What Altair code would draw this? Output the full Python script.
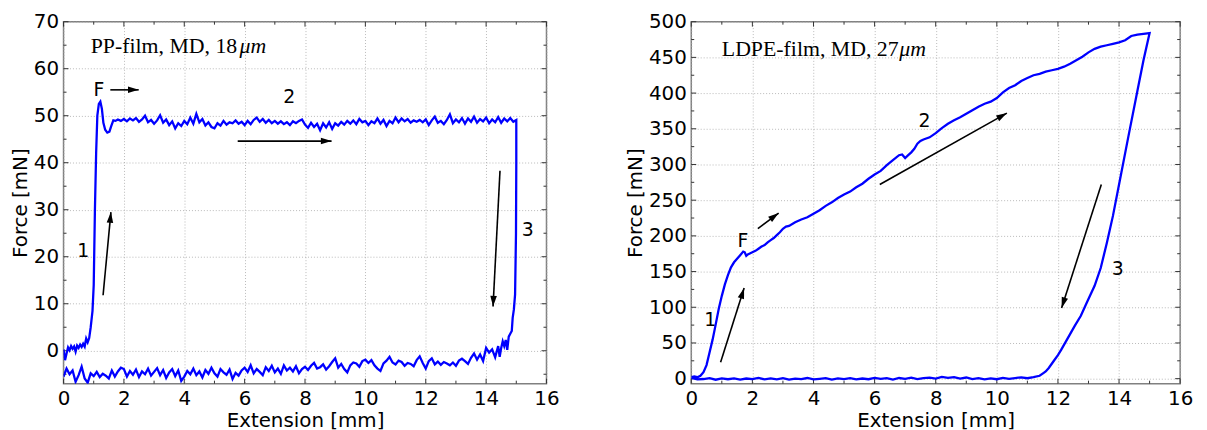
import math
import altair as alt
import pandas as pd

# ---------------- PP-film data ----------------
pp_load_x = [
    0.0, 0.05, 0.1, 0.15, 0.2, 0.25, 0.3, 0.35, 0.4, 0.45,
    0.5, 0.55, 0.6, 0.65, 0.7, 0.75, 0.8, 0.85, 0.9, 0.96,
    1.0, 1.04, 1.08, 1.12, 1.17, 1.22, 1.27, 1.32, 1.38, 1.45,
    1.52, 1.58, 1.65, 1.72,
    1.8, 1.9, 2.0, 2.1, 2.2, 2.3, 2.4, 2.5, 2.6, 2.7,
    2.8, 2.9, 3.0, 3.1, 3.2, 3.3, 3.4, 3.5, 3.6, 3.7,
    3.8, 3.9, 4.0, 4.1, 4.2, 4.3, 4.4, 4.5, 4.6, 4.7,
    4.8, 4.9, 5.0, 5.1, 5.2, 5.3, 5.4, 5.5, 5.6, 5.7,
    5.8, 5.9, 6.0, 6.1, 6.2, 6.3, 6.4, 6.5, 6.6, 6.7,
    6.8, 6.9, 7.0, 7.1, 7.2, 7.3, 7.4, 7.5, 7.6, 7.7,
    7.8, 7.9, 8.0, 8.1, 8.2, 8.3, 8.4, 8.5, 8.6, 8.7,
    8.8, 8.9, 9.0, 9.1, 9.2, 9.3, 9.4, 9.5, 9.6, 9.7,
    9.8, 9.9, 10.0, 10.1, 10.2, 10.3, 10.4, 10.5, 10.6, 10.7,
    10.8, 10.9, 11.0, 11.1, 11.2, 11.3, 11.4, 11.5, 11.6, 11.7,
    11.8, 11.9, 12.0, 12.1, 12.2, 12.3, 12.4, 12.5, 12.6, 12.7,
    12.8, 12.9, 13.0, 13.1, 13.2, 13.3, 13.4, 13.5, 13.6, 13.7,
    13.8, 13.9, 14.0, 14.1, 14.2, 14.3, 14.4, 14.5, 14.6, 14.7,
    14.8, 14.9, 15.0,
]
pp_load_y = [
    0.3, -2.0, -0.6, 0.7, 0.1, 1.0, 0.4, 0.9, -0.2, 1.1,
    0.6, 1.3, 0.8, 1.5, 0.9, 2.6, 1.8, 2.7, 5.0, 8.5,
    14.0, 30.0, 42.0, 50.0, 52.5, 53.0, 51.5, 48.5, 47.0, 46.4,
    46.6, 47.8, 49.0, 48.9,
    49.2, 48.9, 49.3, 48.8, 49.4, 49.0, 49.5, 48.7, 49.2, 50.0,
    48.6, 49.1, 48.3, 49.0, 50.1, 48.5, 49.2, 48.0, 48.8, 47.3,
    48.4, 47.8, 48.9, 48.2, 49.6, 48.3, 50.4, 48.6, 49.3, 47.9,
    48.6, 47.6, 47.3, 48.4, 47.9, 48.9, 48.1, 48.6, 48.4, 49.0,
    48.3, 48.7, 48.0, 48.9, 48.2, 49.1, 49.6, 48.7, 49.3, 48.5,
    49.1, 48.4, 48.9, 48.3, 48.8, 48.2, 48.6, 48.0, 48.8, 48.4,
    48.9, 49.2, 48.1, 47.4, 48.5, 47.6, 48.3, 46.9, 48.4, 47.5,
    48.6, 47.2, 48.4, 47.9, 48.7, 48.1, 48.9, 48.3, 49.0, 48.2,
    49.3, 48.6, 48.9, 48.0, 48.8, 48.4, 49.4, 48.3, 49.1, 47.8,
    48.9, 48.4, 49.6, 48.6, 49.4, 48.8, 49.3, 48.5, 49.0, 48.7,
    49.1, 48.6, 49.2, 48.0, 49.0, 49.8, 48.5, 48.9, 48.2, 49.1,
    50.3, 48.4, 49.2, 48.6, 49.5, 48.3, 49.4, 48.7, 49.8, 48.5,
    49.3, 48.8, 49.6, 48.4, 49.2, 48.6, 49.7, 48.5, 49.4, 48.8,
    49.5, 48.7, 49.1,
]
# return (unloading) path, listed with ascending extension
pp_ret_x = [
    0.0, 0.1, 0.2, 0.3, 0.4, 0.5, 0.6, 0.7, 0.8, 0.9,
    1.0, 1.1, 1.2, 1.3, 1.4, 1.5, 1.6, 1.7, 1.8, 1.9,
    2.0, 2.1, 2.2, 2.3, 2.4, 2.5, 2.6, 2.7, 2.8, 2.9,
    3.0, 3.1, 3.2, 3.3, 3.4, 3.5, 3.6, 3.7, 3.8, 3.9,
    4.0, 4.1, 4.2, 4.3, 4.4, 4.5, 4.6, 4.7, 4.8, 4.9,
    5.0, 5.1, 5.2, 5.3, 5.4, 5.5, 5.6, 5.7, 5.8, 5.9,
    6.0, 6.1, 6.2, 6.3, 6.4, 6.5, 6.6, 6.7, 6.8, 6.9,
    7.0, 7.1, 7.2, 7.3, 7.4, 7.5, 7.6, 7.7, 7.8, 7.9,
    8.0, 8.1, 8.2, 8.3, 8.4, 8.5, 8.6, 8.7, 8.8, 8.9,
    9.0, 9.1, 9.2, 9.3, 9.4, 9.5, 9.6, 9.7, 9.8, 9.9,
    10.0, 10.1, 10.2, 10.3, 10.4, 10.5, 10.6, 10.7, 10.8, 10.9,
    11.0, 11.1, 11.2, 11.3, 11.4, 11.5, 11.6, 11.7, 11.8, 11.9,
    12.0, 12.1, 12.2, 12.3, 12.4, 12.5, 12.6, 12.7, 12.8, 12.9,
    13.0, 13.1, 13.2, 13.3, 13.4, 13.5, 13.6, 13.7, 13.8, 13.9,
    14.0, 14.1, 14.2, 14.3, 14.4,
    14.45, 14.5, 14.55, 14.6, 14.65, 14.7, 14.75, 14.8, 14.85, 14.88,
    14.92, 14.96, 14.99, 15.0,
]
pp_ret_y = [
    -5.5, -3.8, -5.0, -4.2, -6.6, -5.2, -3.4, -5.9, -6.8, -4.8,
    -5.4, -4.5, -5.6, -4.9, -5.3, -5.9, -4.2, -5.5, -4.4, -3.6,
    -3.9, -5.5, -4.3, -5.1, -4.0, -5.6, -4.4, -5.0, -3.8, -5.3,
    -4.5, -3.7, -5.2, -4.1, -5.8, -4.6, -3.9, -5.4, -4.2, -6.4,
    -5.5, -4.3, -5.0, -3.8, -5.2, -4.4, -5.7, -4.1, -4.9, -3.6,
    -4.8, -5.5, -3.9, -4.6, -5.1, -4.0, -6.0, -4.7, -5.3, -4.2,
    -3.6, -4.5, -3.1, -4.8, -3.9, -4.5, -5.2, -3.5, -4.3, -3.2,
    -4.6, -3.8, -4.9, -3.1, -4.2, -3.6, -4.4, -3.3, -4.8, -3.9,
    -3.4, -4.1, -3.2, -2.6, -3.8, -3.5, -2.9, -4.0, -3.3, -2.4,
    -1.6, -3.6, -2.8, -3.9, -4.6, -3.1, -2.5, -2.7, -3.4, -2.2,
    -1.9, -2.6, -2.0, -3.1, -3.8, -4.3, -2.7, -2.1, -1.3, -2.5,
    -2.9, -2.1, -2.4, -3.2, -2.6, -2.8, -3.3, -2.0, -1.2, -2.6,
    -3.8, -2.2, -1.6, -2.9, -2.3, -3.0, -2.4, -2.7, -3.1, -2.5,
    -3.2, -2.1, -1.7, -2.2, -2.8, -1.5, -0.6, -1.9, -0.8, -2.2,
    0.6, -0.4, 0.3, -1.4, 1.0,
    -1.3, 0.6, 2.0, 1.0, 2.3, 0.2, 3.0, 3.6, 4.2, 7.0,
    8.8, 12.0, 25.0, 40.0,
]

# ---------------- LDPE-film data ----------------
ld_load_x = [
    0.0, 0.1, 0.2, 0.3, 0.4, 0.5, 0.6, 0.7, 0.8, 0.9,
    1.0, 1.1, 1.2, 1.3, 1.4, 1.5, 1.6, 1.7, 1.75, 1.8,
    1.85, 1.9, 2.0, 2.1, 2.2, 2.3, 2.4, 2.5, 2.6, 2.7,
    2.8, 2.9, 3.0, 3.1, 3.2, 3.4, 3.6, 3.8, 4.0, 4.2,
    4.4, 4.6, 4.8, 5.0, 5.2, 5.4, 5.6, 5.8, 6.0, 6.2,
    6.4, 6.6, 6.8, 6.9, 7.0, 7.1, 7.2, 7.3, 7.4, 7.5,
    7.6, 7.8, 8.0, 8.2, 8.4, 8.6, 8.8, 9.0, 9.2, 9.4,
    9.6, 9.8, 10.0, 10.2, 10.4, 10.6, 10.8, 11.0, 11.2, 11.4,
    11.6, 11.8, 12.0, 12.2, 12.4, 12.6, 12.8, 13.0, 13.2, 13.4,
    13.6, 13.8, 14.0, 14.2, 14.4, 14.6, 14.8, 15.0,
]
ld_load_y = [
    2, 3, 2, 4, 9, 19, 37, 55, 76, 98,
    116, 132, 145, 156, 163, 168, 173, 178, 177, 172,
    174, 175, 177, 179, 182, 185, 187, 191, 194, 197,
    201, 205, 210, 213, 214, 219, 223, 226, 231, 236,
    242, 247, 253, 258, 262, 268, 273, 280, 286, 291,
    299, 306, 313, 314, 309, 313, 317, 322, 329, 333,
    335, 338, 344, 351, 357, 362, 366, 371, 376, 381,
    385, 388, 393, 401, 407, 411, 417, 421, 425, 427,
    430, 432, 434, 437, 441, 446, 451, 457, 462, 465,
    467, 469, 471, 474, 480, 482, 483, 484,
]
ld_ret_x = [
    0.0, 0.2, 0.4, 0.6, 0.8, 1.0, 1.2, 1.4, 1.6, 1.8,
    2.0, 2.2, 2.4, 2.6, 2.8, 3.0, 3.2, 3.4, 3.6, 3.8,
    4.0, 4.2, 4.4, 4.6, 4.8, 5.0, 5.2, 5.4, 5.6, 5.8,
    6.0, 6.2, 6.4, 6.6, 6.8, 7.0, 7.2, 7.4, 7.6, 7.8,
    8.0, 8.2, 8.4, 8.6, 8.8, 9.0, 9.2, 9.4, 9.6, 9.8,
    10.0, 10.2, 10.4, 10.6, 10.8, 11.0, 11.2,
    11.4, 11.5, 11.6, 11.7, 11.85, 12.0, 12.1, 12.3, 12.55, 12.75,
    12.95, 13.2, 13.4, 13.6, 13.8, 14.0, 14.3, 14.6, 14.8, 15.0,
]
ld_ret_y = [
    1.0, -1.0, -0.5, 0.8, -1.5, 0.3, -0.8, 0.5, -1.2, 0.2,
    -0.6, 1.0, -1.0, 0.4, -0.9, 0.6, -1.3, 0.1, -0.7, 0.9,
    -1.1, -0.2, 0.7, -1.4, 0.3, -0.5, 0.8, -1.0, 0.2, -0.8,
    1.1, -0.4, 0.6, -1.2, 0.9, -0.3, 1.3, -0.6, 0.8, 1.5,
    0.2, 2.4, 1.0, 2.2, 0.1, 1.6, -0.5, 0.7, -1.1, 0.4,
    -0.8, 1.2, -0.2, 0.9, 1.8, 0.6, 2.0,
    4.0, 7.0, 10.0, 15.0, 24.0, 33.0, 40.0, 55.0, 74.0, 88.0,
    107.0, 130.0, 155.0, 190.0, 228.0, 272.0, 338.0, 403.0, 446.0, 484.0,
]

# ---------------- axes ----------------
x_major = [0, 2, 4, 6, 8, 10, 12, 14, 16]
x_minor = [1, 3, 5, 7, 9, 11, 13, 15]
pp_y_major = [0, 10, 20, 30, 40, 50, 60, 70]
pp_y_minor = [-5, 5, 15, 25, 35, 45, 55, 65]
ld_y_major = [0, 50, 100, 150, 200, 250, 300, 350, 400, 450, 500]
ld_y_minor = [25, 75, 125, 175, 225, 275, 325, 375, 425, 475]
x_domain = [0, 16]
pp_y_domain = [-7, 70]
ld_y_domain = [-7, 500]

# ---------------- annotations ----------------
pp_lab_text = ["1", "2", "3", "F"]
pp_lab_x = [0.65, 7.48, 15.38, 1.17]
pp_lab_y = [21.3, 53.9, 25.6, 55.5]
pp_arr_x0 = [1.31, 1.55, 5.77, 14.46]
pp_arr_y0 = [11.8, 55.5, 44.6, 38.3]
pp_arr_x1 = [1.57, 2.49, 8.88, 14.23]
pp_arr_y1 = [29.5, 55.5, 44.6, 9.4]

ld_lab_text = ["1", "2", "3", "F"]
ld_lab_x = [0.62, 7.63, 13.96, 1.69]
ld_lab_y = [82, 361, 153, 193]
ld_arr_x0 = [0.96, 2.18, 6.17, 13.42]
ld_arr_y0 = [23, 210, 272, 272]
ld_arr_x1 = [1.73, 2.86, 10.33, 12.12]
ld_arr_y1 = [127, 232, 372, 99]

pp_title = ["PP-film, MD, 18", "μm"]
ld_title = ["LDPE-film, MD, 27", "μm"]

W1, W2, H = 487, 493, 365
ARROW = "M0,0L0.55,1.8L-0.55,1.8Z"


def path_df(lx, ly, rx, ry):
    xs = list(lx) + list(reversed(rx))
    ys = list(ly) + list(reversed(ry))
    return pd.DataFrame({"x": xs, "y": ys, "i": list(range(len(xs)))})


def panel(path, W, ydom, ymaj, ymin, labs, arrs, title, title_dx, title_pos):
    xs = alt.Scale(domain=x_domain, nice=False, zero=False)
    ys = alt.Scale(domain=ydom, nice=False, zero=False)
    xax = alt.Axis(values=x_major, title="Extension [mm]")
    yax = alt.Axis(values=ymaj, title="Force [mN]")
    kx = W / (x_domain[1] - x_domain[0])
    ky = H / (ydom[1] - ydom[0])

    def X(f):
        return alt.X(f, scale=xs, axis=xax)

    def Y(f):
        return alt.Y(f, scale=ys, axis=yax)

    line = alt.Chart(path).mark_line(color="#0000ff", strokeWidth=2.3, clip=True).encode(
        x=X("x:Q"), y=Y("y:Q"), order="i:Q",
    )

    # inward ticks on all four sides
    tick_layers = []
    for vals, L in ((x_major, 5), (x_minor, 3)):
        base = alt.Chart(pd.DataFrame({"x": vals})).mark_rule(color="#333333", strokeWidth=1)
        tick_layers.append(base.encode(x=X("x:Q"), y=alt.value(H), y2=alt.value(H - L)))
        tick_layers.append(base.encode(x=X("x:Q"), y=alt.value(0), y2=alt.value(L)))
    for vals, L in ((ymaj, 5), (ymin, 3)):
        base = alt.Chart(pd.DataFrame({"y": vals})).mark_rule(color="#333333", strokeWidth=1)
        tick_layers.append(base.encode(y=Y("y:Q"), x=alt.value(0), x2=alt.value(L)))
        tick_layers.append(base.encode(y=Y("y:Q"), x=alt.value(W), x2=alt.value(W - L)))
    layers = tick_layers + [line]

    x0, y0, x1, y1 = arrs
    ang = [math.degrees(math.atan2((b - a) * kx, (d - c) * ky)) % 360
           for a, c, b, d in zip(x0, y0, x1, y1)]
    adf = pd.DataFrame({"x": x0, "y": y0, "x1": x1, "y1": y1, "ang": ang})
    shafts = alt.Chart(adf).mark_rule(color="black", strokeWidth=1.6).encode(
        x=X("x:Q"), y=Y("y:Q"), x2="x1:Q", y2="y1:Q",
    )
    hdf = pd.DataFrame({"x": x1, "y": y1, "ang": ang})
    heads = alt.Chart(hdf).mark_point(shape=ARROW, filled=True, color="black", opacity=1,
                                      size=144, strokeWidth=0).encode(
        x=X("x:Q"), y=Y("y:Q"), angle=alt.Angle("ang:Q", scale=None),
    )
    layers += [shafts, heads]

    t, lx, ly = labs
    ldf = pd.DataFrame({"t": t, "x": lx, "y": ly})
    labels = alt.Chart(ldf).mark_text(font="DejaVu Sans", fontSize=19, color="black",
                                      align="center", baseline="middle").encode(
        x=X("x:Q"), y=Y("y:Q"), text="t:N")
    layers.append(labels)

    tdf = pd.DataFrame({"x": [title_pos[0]], "y": [title_pos[1]], "a": [title[0]], "b": [title[1]]})
    t1 = alt.Chart(tdf).mark_text(font="Liberation Serif", fontSize=22, color="black",
                                  align="left", baseline="alphabetic").encode(
        x=X("x:Q"), y=Y("y:Q"), text="a:N")
    t2 = alt.Chart(tdf).mark_text(font="Liberation Serif", fontSize=22, color="black",
                                  fontStyle="italic", align="left", baseline="alphabetic",
                                  dx=title_dx).encode(
        x=X("x:Q"), y=Y("y:Q"), text="b:N")
    layers += [t1, t2]

    return alt.layer(*layers).properties(width=W, height=H)


left = panel(path_df(pp_load_x, pp_load_y, pp_ret_x, pp_ret_y), W1, pp_y_domain,
             pp_y_major, pp_y_minor,
             (pp_lab_text, pp_lab_x, pp_lab_y),
             (pp_arr_x0, pp_arr_y0, pp_arr_x1, pp_arr_y1),
             pp_title, 150, (0.9, 63.4))
right = panel(path_df(ld_load_x, ld_load_y, ld_ret_x, ld_ret_y), W2, ld_y_domain,
              ld_y_major, ld_y_minor,
              (ld_lab_text, ld_lab_x, ld_lab_y),
              (ld_arr_x0, ld_arr_y0, ld_arr_x1, ld_arr_y1),
              ld_title, 179, (1.0, 452))

chart = alt.hconcat(left, right, spacing=146, bounds="flush").properties(
    padding={"left": 1, "top": 1, "right": 5, "bottom": 5}
).configure_view(
    stroke="#808080", strokeWidth=1.5
).configure_axis(
    labelFont="DejaVu Sans", labelFontSize=20, labelColor="#000000",
    titleFont="DejaVu Sans", titleFontSize=20, titleFontWeight="normal", titleColor="#000000",
    domain=False, ticks=False, grid=True, gridColor="#a8a8a8", gridDash=[1, 2], gridWidth=0.8,
    labelPadding=5, labelFlush=False, labelOverlap=False,
).configure_axisX(titlePadding=2).configure_axisY(titlePadding=3)

chart.save("out.html", embed_options={"renderer": "svg", "actions": False})
